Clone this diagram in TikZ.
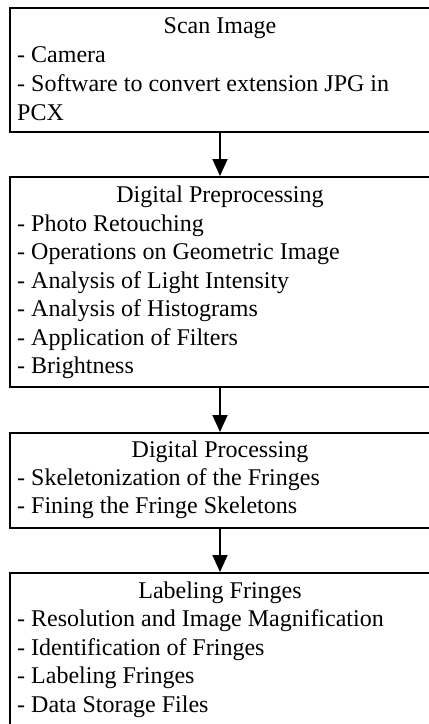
\documentclass[tikz,border=0pt]{standalone}
\usepackage{fontspec}
\setmainfont{Liberation Serif}
\usetikzlibrary{arrows.meta}
\begin{document}
\begin{tikzpicture}[x=1pt,y=-1pt,
  stagebox/.style={draw=black,line width=1.7pt,inner sep=0pt,anchor=north west},
  ttl/.style={anchor=base,inner sep=0pt,font=\fontsize{24}{28}\selectfont},
  itm/.style={anchor=base west,inner sep=0pt,font=\fontsize{24}{28}\selectfont},
  flow/.style={line width=1.7pt,-{Triangle[width=15pt,length=17pt]}}]
\useasboundingbox (0,0) rectangle (429,724);
% boxes
\node[stagebox,minimum width=426pt,minimum height=124pt] (b1) at (9,7) {};
\node[stagebox,minimum width=426pt,minimum height=210pt] (b2) at (9,176) {};
\node[stagebox,minimum width=426pt,minimum height=95pt] (b3) at (9,432) {};
\node[stagebox,minimum width=426pt,minimum height=160pt] (b4) at (9,572) {};
% texts box 1
\node[ttl] (t1) at (220,33) {Scan Image};
\node[itm] (t1a) at (17,62) {- Camera};
\node[itm] (t1b) at (17,91) {- Software to convert extension JPG in};
\node[itm] (t1c) at (17,120) {PCX};
% box 2
\node[ttl] (t2) at (220,202) {Digital Preprocessing};
\node[itm] (t2a) at (17,231) {- Photo Retouching};
\node[itm] (t2b) at (17,259.5) {- Operations on Geometric Image};
\node[itm] (t2c) at (17,288) {- Analysis of Light Intensity};
\node[itm] (t2d) at (17,316.5) {- Analysis of Histograms};
\node[itm] (t2e) at (17,345) {- Application of Filters};
\node[itm] (t2f) at (17,373.5) {- Brightness};
% box 3
\node[ttl] (t3) at (220,457) {Digital Processing};
\node[itm] (t3a) at (17,485) {- Skeletonization of the Fringes};
\node[itm] (t3b) at (17,513) {- Fining the Fringe Skeletons};
% box 4
\node[ttl] (t4) at (220,598) {Labeling Fringes};
\node[itm] (t4a) at (17,626.5) {- Resolution and Image Magnification};
\node[itm] (t4b) at (17,655) {- Identification of Fringes};
\node[itm] (t4c) at (17,683.5) {- Labeling Fringes};
\node[itm] (t4d) at (17,712) {- Data Storage Files};
% arrows
\draw[flow] (b1.south -| t1) -- (b2.north -| t1);
\draw[flow] (b2.south -| t1) -- (b3.north -| t1);
\draw[flow] (b3.south -| t1) -- (b4.north -| t1);
\end{tikzpicture}
\end{document}
